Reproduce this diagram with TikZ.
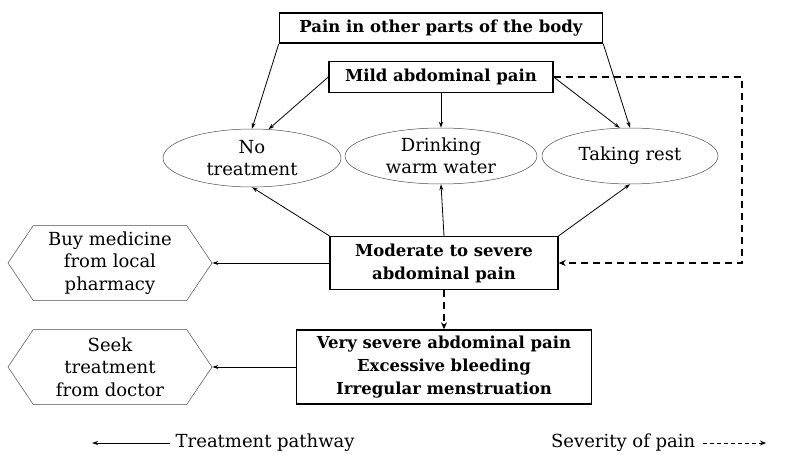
\documentclass[tikz,border=0pt]{standalone}
\usepackage{fontspec}
\setmainfont{DejaVu Serif}
\usetikzlibrary{arrows.meta,shapes.geometric,shapes.symbols}

\begin{document}
\begin{tikzpicture}[x=1pt,y=-1pt,line width=0.8pt,
  painbox/.style={draw,line width=1.4pt,font=\fontsize{16.5}{23}\selectfont\bfseries,align=center,inner sep=2pt},
  choice/.style={draw=black!70,line width=0.5pt,ellipse,font=\fontsize{18}{22}\selectfont,align=center,inner sep=0pt},
  outside/.style={draw=black!70,line width=0.5pt,signal,signal to=west and east,signal pointer angle=112,font=\fontsize{18}{22.5}\selectfont,align=center,inner sep=0pt,minimum width=204,minimum height=75},
  treat/.style={-{Stealth[length=6pt,width=4pt]}},
  severe/.style={dash pattern=on 7pt off 5pt,line width=1.6pt,-{Stealth[length=7pt,width=6pt]}}]
  \useasboundingbox (0,0) rectangle (790,455);
  % boxes
  \node[painbox,minimum width=323,minimum height=30] (other) at (441,28) {Pain in other parts of the body};
  \node[painbox,minimum width=224,minimum height=31] (mild) at (441,77) {Mild abdominal pain};
  \node[painbox,minimum width=228,minimum height=53] (moder) at (444,263) {Moderate to severe\\abdominal pain};
  \node[painbox,minimum width=295,minimum height=74] (vsev) at (444,367) {Very severe abdominal pain\\Excessive bleeding\\Irregular menstruation};
  % home remedies
  \node[choice,minimum width=178,minimum height=58] (none) at (252,158) {No\\treatment};
  \node[choice,minimum width=192,minimum height=56] (water) at (441,156) {Drinking\\warm water};
  \node[choice,minimum width=176,minimum height=56] (rest) at (630,156) {Taking rest};
  \node[outside] (pharm) at (110,263) {Buy medicine\\from local\\pharmacy};
  \node[outside] (doctor) at (110,367) {Seek\\treatment\\from doctor};
  % treatment pathway
  \draw[treat] (other.south west) -- (none.north);
  \draw[treat] (other.south east) -- (rest.north);
  \draw[treat] (mild.west) -- (none.60);
  \draw[treat] (mild.south) -- (water.north);
  \draw[treat] (mild.east) -- (rest.110);
  \draw[treat] (moder.north west) -- (none.south);
  \draw[treat] (moder.north) -- (water.south);
  \draw[treat] (moder.north east) -- (rest.south);
  \draw[treat] (moder.west) -- (pharm.east);
  \draw[treat] (vsev.west) -- (doctor.east);
  % severity of pain
  \coordinate (turn) at (742,77);
  \draw[severe] (mild.east) -- (turn) |- (moder.east);
  \draw[severe] (moder.south) -- (vsev.north);
  % legend
  \coordinate (ta) at (92,443);
  \coordinate (tb) at (170,443);
  \draw[treat] (tb) -- (ta);
  \node[anchor=west,font=\fontsize{18}{20}\selectfont] (tlab) at (172,443) {Treatment pathway};
  \node[anchor=east,font=\fontsize{18}{20}\selectfont] (slab) at (699,443) {Severity of pain};
  \coordinate (sb) at (766,443);
  \draw[dash pattern=on 4pt off 3pt,line width=1pt,shorten <=4pt,-{Stealth[length=6pt,width=5pt]}] (slab.east) -- (sb);
\end{tikzpicture}
\end{document}
